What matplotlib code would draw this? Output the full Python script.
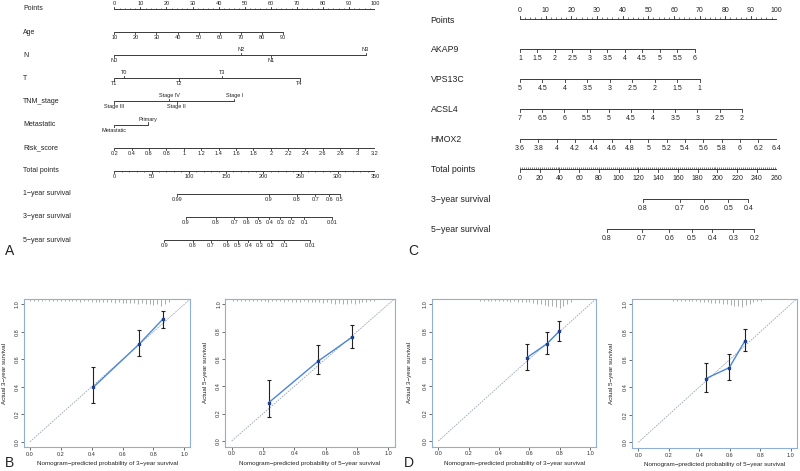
import matplotlib
matplotlib.use('Agg')
import matplotlib.pyplot as plt
import numpy as np
from matplotlib.transforms import blended_transform_factory

plt.rcParams['font.family'] = ['Liberation Sans', 'DejaVu Sans']

# ---------------- Panel A nomogram data ----------------
A_points_ticks = [0, 10, 20, 30, 40, 50, 60, 70, 80, 90, 100]
A_age_ticks = [10, 20, 30, 40, 50, 60, 70, 80, 90]
A_age_max_points = 64.7
A_N_labels = ['N0', 'N2', 'N1', 'N3']
A_N_points = [0, 48.6, 60.0, 96.4]
A_N_sides = ['below', 'above', 'below', 'above']
A_T_labels = ['T1', 'T0', 'T2', 'T3', 'T4']
A_T_points = [0, 3.6, 25.0, 41.2, 71.1]
A_T_sides = ['below', 'above', 'below', 'above', 'below']
A_TNM_labels = ['Stage III', 'Stage IV', 'Stage II', 'Stage I']
A_TNM_points = [0, 21.1, 23.9, 46.0]
A_TNM_sides = ['below', 'above', 'below', 'above']
A_met_labels = ['Metastatic', 'Primary']
A_met_points = [0, 12.9]
A_met_sides = ['below', 'above']
A_risk_ticks = [0.2, 0.4, 0.6, 0.8, 1, 1.2, 1.4, 1.6, 1.8, 2, 2.2, 2.4, 2.6, 2.8, 3, 3.2]
A_total_ticks = [0, 50, 100, 150, 200, 250, 300, 350]
A_total_max = 350
A_surv1_labels = ['0.99', '0.9', '0.8', '0.7', '0.6', '0.5']
A_surv1_total = [83.8, 207.3, 245.3, 269.9, 288.7, 303.0]
A_surv3_labels = ['0.9', '0.8', '0.7', '0.6', '0.5', '0.4', '0.3', '0.2', '0.1', '0.01']
A_surv3_total = [96.2, 136.1, 161.1, 178.1, 193.3, 208.1, 222.9, 237.6, 255.1, 292.7]
A_surv5_labels = ['0.9', '0.8', '0.7', '0.6', '0.5', '0.4', '0.3', '0.2', '0.1', '0.01']
A_surv5_total = [67.1, 105.6, 129.8, 150.9, 165.7, 179.9, 195.2, 210.4, 228.2, 263.1]

# ---------------- Panel C nomogram data ----------------
C_points_ticks = [0, 10, 20, 30, 40, 50, 60, 70, 80, 90, 100]
C_akap9_ticks = [1, 1.5, 2, 2.5, 3, 3.5, 4, 4.5, 5, 5.5, 6]
C_akap9_max_points = 68.0
C_vps13c_ticks = [5, 4.5, 4, 3.5, 3, 2.5, 2, 1.5, 1]
C_vps13c_max_points = 70.0
C_acsl4_ticks = [7, 6.5, 6, 5.5, 5, 4.5, 4, 3.5, 3, 2.5, 2]
C_acsl4_max_points = 86.4
C_hmox2_ticks = [3.6, 3.8, 4, 4.2, 4.4, 4.6, 4.8, 5, 5.2, 5.4, 5.6, 5.8, 6, 6.2, 6.4]
C_hmox2_max_points = 100.0
C_total_ticks = [0, 20, 40, 60, 80, 100, 120, 140, 160, 180, 200, 220, 240, 260]
C_total_max = 260
C_surv3_labels = ['0.8', '0.7', '0.6', '0.5', '0.4']
C_surv3_total = [124.3, 162.1, 186.7, 211.0, 231.3]
C_surv5_labels = ['0.8', '0.7', '0.6', '0.5', '0.4', '0.3', '0.2']
C_surv5_total = [87.8, 123.3, 151.3, 174.2, 194.8, 216.1, 237.4]

# ---------------- Calibration data ----------------
B1_pred = [0.410, 0.708, 0.860]
B1_obs = [0.396, 0.711, 0.891]
B1_lo = [0.284, 0.624, 0.830]
B1_hi = [0.546, 0.813, 0.949]
B2_pred = [0.236, 0.553, 0.768]
B2_obs = [0.280, 0.585, 0.759]
B2_lo = [0.173, 0.492, 0.683]
B2_hi = [0.446, 0.702, 0.849]
D1_pred = [0.583, 0.717, 0.796]
D1_obs = [0.609, 0.712, 0.802]
D1_lo = [0.517, 0.636, 0.734]
D1_hi = [0.709, 0.795, 0.878]
D2_pred = [0.442, 0.597, 0.700]
D2_obs = [0.461, 0.541, 0.736]
D2_lo = [0.365, 0.454, 0.662]
D2_hi = [0.577, 0.638, 0.819]

# rug (spike histogram) of predicted probabilities: bin starts and heights
B1_rug_start, B1_rug_h = 0.0, [0.010, 0.012, 0.008, 0.010, 0.004, 0.012, 0.010, 0.008, 0.012, 0.010, 0.014, 0.010,
                              0.012, 0.015, 0.012, 0.014, 0.016, 0.015, 0.018, 0.016, 0.020, 0.018, 0.022, 0.020,
                              0.024, 0.022, 0.026, 0.025, 0.030, 0.028, 0.035, 0.030, 0.040, 0.035, 0.045, 0.030, 0.020]
B2_rug_start, B2_rug_h = 0.01, [0.012, 0.010, 0.014, 0.008, 0.012, 0.010, 0.014, 0.012, 0.010, 0.015, 0.012, 0.014,
                               0.012, 0.016, 0.014, 0.015, 0.018, 0.016, 0.014, 0.018, 0.020, 0.018, 0.022, 0.024,
                               0.022, 0.026, 0.030, 0.028, 0.032, 0.030, 0.026, 0.030, 0.024, 0.020, 0.016, 0.012, 0.010]
D1_rug_start, D1_rug_h = 0.275, [0.008, 0.010, 0.008, 0.012, 0.010, 0.012, 0.014, 0.012, 0.016, 0.014, 0.018, 0.016,
                                0.020, 0.022, 0.026, 0.030, 0.034, 0.040, 0.045, 0.050, 0.055, 0.060, 0.048, 0.030, 0.015]
D2_rug_start, D2_rug_h = 0.23, [0.008, 0.010, 0.010, 0.012, 0.010, 0.012, 0.014, 0.016, 0.018, 0.020, 0.022, 0.024,
                               0.026, 0.030, 0.034, 0.040, 0.046, 0.050, 0.055, 0.040, 0.030, 0.020, 0.012, 0.008]
rug_step = 0.025

W, H = 800, 471
fig = plt.figure(figsize=(8, 4.71), dpi=100)

def px_axes(l, t, r, b):
    return fig.add_axes([l / W, 1 - b / H, (r - l) / W, (b - t) / H])

LINE = '#3a3a3a'
TXT = '#222222'

def nomo_row(ax, y, pos, labels, sides, tl, fs, off, minor=None, mside='below', mlen=None, lw=0.7):
    pos = np.asarray(pos, float)
    ax.plot([pos.min(), pos.max()], [y, y], color=LINE, lw=lw, solid_capstyle='butt')
    for x, lab, s in zip(pos, labels, sides):
        d = -1 if s == 'above' else 1
        ax.plot([x, x], [y, y + d * tl], color=LINE, lw=lw * 0.9)
        ax.annotate(lab, (x, y), xytext=(0, off[0] if s == 'above' else -off[1]),
                    textcoords='offset pixels', ha='center',
                    va='bottom' if s == 'above' else 'top', fontsize=fs, color=TXT)
    if minor is not None:
        d = -1 if mside == 'above' else 1
        ax.vlines(minor, y, y + d * mlen, color=LINE, lw=lw * 0.7)

def lin_points(ticks, max_pts):
    ticks = np.asarray(ticks, float)
    return np.interp(np.arange(len(ticks)), [0, len(ticks) - 1], [0, max_pts])

def fmt(v):
    return '%g' % v

# ---------------- Panel A ----------------
axA = px_axes(114.3, 0, 375.0, 260)
axA.set_xlim(0, 100)
rA = 23.1
axA.set_ylim((260 - 9) / rA, -9 / rA)
axA.axis('off')
tlA, mlA = 2.2 / rA, 1.3 / rA
fsA_lbl, fsA_tk = 5.0, 4.0
offA = (3, 3)
lblA = blended_transform_factory(fig.transFigure, axA.transData)
A_names = ['Points', 'Age', 'N', 'T', 'TNM_stage', 'Metastatic', 'Risk_score', 'Total points',
           '1\u2212year survival', '3\u2212year survival', '5\u2212year survival']
for i, nm in enumerate(A_names):
    axA.text(23 / W, i, nm, transform=lblA, fontsize=fsA_lbl, va='center', ha='left', color=TXT)

nomo_row(axA, 0, A_points_ticks, [fmt(v) for v in A_points_ticks], ['above'] * 11, tlA, fsA_tk, offA,
         minor=np.arange(0, 101, 2), mside='above', mlen=mlA)
nomo_row(axA, 1, lin_points(A_age_ticks, A_age_max_points), [fmt(v) for v in A_age_ticks], ['below'] * 9,
         tlA, fsA_tk, offA)
nomo_row(axA, 2, A_N_points, A_N_labels, A_N_sides, tlA, fsA_tk, offA)
nomo_row(axA, 3, A_T_points, A_T_labels, A_T_sides, tlA, fsA_tk, offA)
nomo_row(axA, 4, A_TNM_points, A_TNM_labels, A_TNM_sides, tlA, fsA_tk, offA)
nomo_row(axA, 5, A_met_points, A_met_labels, A_met_sides, tlA, fsA_tk, offA)
nomo_row(axA, 6, lin_points(A_risk_ticks, 100), [fmt(v) for v in A_risk_ticks], ['below'] * 16,
         tlA, fsA_tk, offA)
sA = 100.0 / A_total_max
nomo_row(axA, 7, np.array(A_total_ticks) * sA, [fmt(v) for v in A_total_ticks], ['below'] * 8,
         tlA, fsA_tk, offA, minor=np.arange(0, 351, 10) * sA, mlen=mlA)
nomo_row(axA, 8, np.array(A_surv1_total) * sA, A_surv1_labels, ['below'] * 6, tlA, fsA_tk, offA)
nomo_row(axA, 9, np.array(A_surv3_total) * sA, A_surv3_labels, ['below'] * 10, tlA, fsA_tk, offA)
nomo_row(axA, 10, np.array(A_surv5_total) * sA, A_surv5_labels, ['below'] * 10, tlA, fsA_tk, offA)

# ---------------- Panel C ----------------
axC = px_axes(520.0, 0, 776.7, 262)
axC.set_xlim(0, 100)
rC = 30.0
axC.set_ylim((262 - 19) / rC, -19 / rC)
axC.axis('off')
tlC, mlC = 3.0 / rC, 1.8 / rC
fsC_lbl, fsC_tk = 6.3, 5.0
offC = (5, 6)
lblC = blended_transform_factory(fig.transFigure, axC.transData)
C_names = ['Points', 'AKAP9', 'VPS13C', 'ACSL4', 'HMOX2', 'Total points', '3\u2212year survival',
           '5\u2212year survival']
for i, nm in enumerate(C_names):
    axC.text(430.7 / W, i + (0.05 if i == 0 else 0), nm, transform=lblC, fontsize=fsC_lbl, va='center',
             ha='left', color=TXT)

nomo_row(axC, 0, C_points_ticks, [fmt(v) for v in C_points_ticks], ['above'] * 11, tlC, fsC_tk, offC,
         minor=np.arange(0, 101, 2), mside='above', mlen=mlC)
nomo_row(axC, 1, lin_points(C_akap9_ticks, C_akap9_max_points), [fmt(v) for v in C_akap9_ticks],
         ['below'] * 11, tlC, fsC_tk, offC)
nomo_row(axC, 2, lin_points(C_vps13c_ticks, C_vps13c_max_points), [fmt(v) for v in C_vps13c_ticks],
         ['below'] * 9, tlC, fsC_tk, offC)
nomo_row(axC, 3, lin_points(C_acsl4_ticks, C_acsl4_max_points), [fmt(v) for v in C_acsl4_ticks],
         ['below'] * 11, tlC, fsC_tk, offC)
nomo_row(axC, 4, lin_points(C_hmox2_ticks, C_hmox2_max_points), [fmt(v) for v in C_hmox2_ticks],
         ['below'] * 15, tlC, fsC_tk, offC)
sC = 100.0 / C_total_max
nomo_row(axC, 5, np.array(C_total_ticks) * sC, [fmt(v) for v in C_total_ticks], ['below'] * 14,
         tlC, fsC_tk, offC, minor=np.arange(0, 261, 2) * sC, mside='above', mlen=mlC)
nomo_row(axC, 6, np.array(C_surv3_total) * sC, C_surv3_labels, ['below'] * 5, tlC, fsC_tk, offC)
nomo_row(axC, 7, np.array(C_surv5_total) * sC, C_surv5_labels, ['below'] * 7, tlC, fsC_tk, offC)

fig.text(5 / W, 1 - 251 / H, 'A', fontsize=10, va='center', ha='left', color=TXT)
fig.text(408 / W, 1 - 251 / H, 'C', fontsize=10, va='center', ha='left', color=TXT)

# ---------------- Calibration panels ----------------
FRAME = '#8fb0d4'
def calib(box, pred, obs, lo, hi, rug_start, rug_h, year, ylab_x):
    ax = px_axes(*box)
    ax.set_xlim(-0.04, 1.04)
    ax.set_ylim(-0.04, 1.04)
    for sp in ax.spines.values():
        sp.set_color(FRAME)
        sp.set_linewidth(0.8)
    ax.plot([0, 1.04], [0, 1.04], color='#9aa6b4', lw=0.6, ls=(0, (2, 1.2)), zorder=1)
    xs = rug_start + rug_step * np.arange(len(rug_h))
    ax.vlines(xs, 1.04 - np.asarray(rug_h) - 0.005, 1.035, color='#8a8a8a', lw=0.5, zorder=1)
    ax.plot(pred, obs, color='#4a86d8', lw=1.0, zorder=3)
    ax.errorbar(pred, obs, yerr=[np.subtract(obs, lo), np.subtract(hi, obs)], fmt='none',
                ecolor='#222222', elinewidth=0.8, capsize=1.6, capthick=0.8, zorder=2)
    ax.plot(pred, obs, ls='none', marker='s', ms=1.8, color='#1f3f8f', zorder=4)
    tk = [0, 0.2, 0.4, 0.6, 0.8, 1.0]
    ax.set_xticks(tk)
    ax.set_xticklabels(['%.1f' % v for v in tk])
    ax.set_yticks(tk)
    ax.set_yticklabels(['%.1f' % v for v in tk], rotation=90, va='center')
    ax.tick_params(labelsize=4, length=2, width=0.5, pad=1.5, colors='#333333')
    ax.tick_params(axis='y', pad=1.0)
    ax.set_xlabel('Nomogram\u2212predicted probability of %d\u2212year survival' % year, fontsize=4.5,
                  labelpad=3, color=TXT)
    fig.text(ylab_x / W, 1 - ((box[1] + box[3]) / 2) / H, 'Actual %d\u2212year survival' % year,
             rotation=90, fontsize=4.5, va='center', ha='center', color=TXT)
    return ax

calib((23.8, 298.8, 190.5, 447.2), B1_pred, B1_obs, B1_lo, B1_hi, B1_rug_start, B1_rug_h, 3, 5)
calib((225.4, 298.8, 394.6, 446.5), B2_pred, B2_obs, B2_lo, B2_hi, B2_rug_start, B2_rug_h, 5, 206)
calib((432.2, 298.8, 596.1, 446.5), D1_pred, D1_obs, D1_lo, D1_hi, D1_rug_start, D1_rug_h, 3, 410)
calib((632.2, 298.8, 796.8, 447.8), D2_pred, D2_obs, D2_lo, D2_hi, D2_rug_start, D2_rug_h, 5, 612)

fig.text(5 / W, 1 - 463 / H, 'B', fontsize=10, va='center', ha='left', color=TXT)
fig.text(404 / W, 1 - 463 / H, 'D', fontsize=10, va='center', ha='left', color=TXT)

fig.savefig('out.png', dpi=100, facecolor='white')
